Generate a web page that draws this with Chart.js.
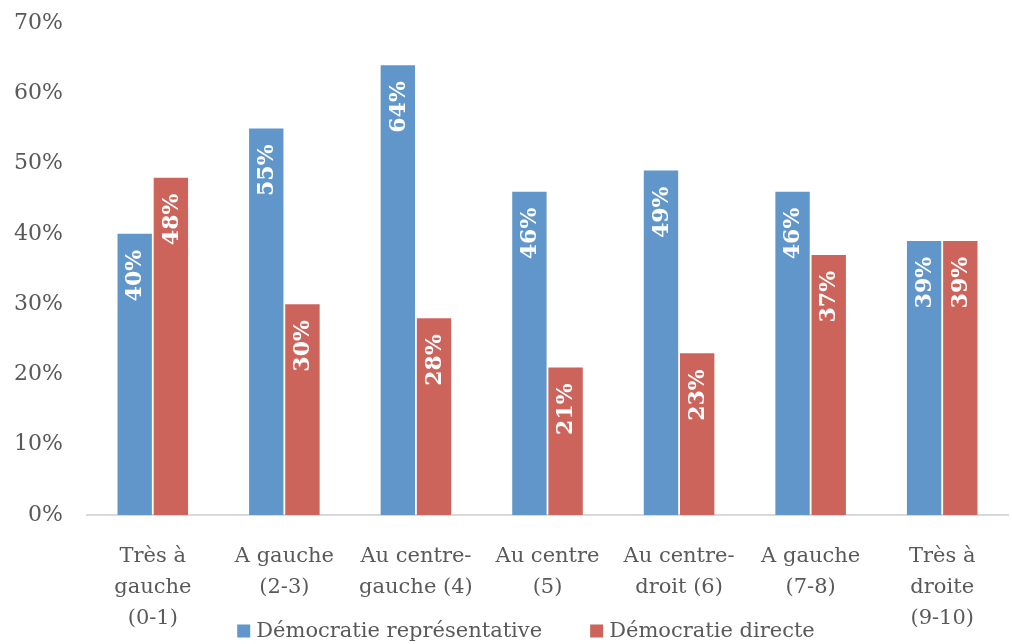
<!DOCTYPE html>
<html>
<head>
<meta charset="utf-8">
<script src="https://cdn.jsdelivr.net/npm/chart.js@4"></script>
<style>
  html, body { margin: 0; padding: 0; background: #fff; }
  #wrap { width: 1012px; height: 644px; }
</style>
</head>
<body>
<div id="wrap"><canvas id="barChart"></canvas></div>
<script>
// donnees
const categories = [
  ["Très à", "gauche", "(0-1)"],
  ["A gauche", "(2-3)"],
  ["Au centre-", "gauche (4)"],
  ["Au centre", "(5)"],
  ["Au centre-", "droit (6)"],
  ["A gauche", "(7-8)"],
  ["Très à", "droite", "(9-10)"]
];
const representative = [40, 55, 64, 46, 49, 46, 39];
const directe = [48, 30, 28, 21, 23, 37, 39];
const yTicks = [0, 10, 20, 30, 40, 50, 60, 70];

const FONT = "'DejaVu Serif', serif";
const GREY = "#595959";

// etiquettes blanches verticales en haut des barres
const valueLabels = {
  id: "valueLabels",
  afterDatasetsDraw(chart) {
    const ctx = chart.ctx;
    ctx.save();
    ctx.fillStyle = "#fff";
    ctx.font = "bold 22px " + FONT;
    ctx.textAlign = "right";
    ctx.textBaseline = "middle";
    chart.data.datasets.forEach(function (ds, i) {
      chart.getDatasetMeta(i).data.forEach(function (bar, j) {
        ctx.save();
        ctx.translate(bar.x, bar.y + 16);
        ctx.rotate(-Math.PI / 2);
        ctx.fillText(ds.data[j] + "%", 0, 1);
        ctx.restore();
      });
    });
    ctx.restore();
  }
};

// legende en bas, qui chevauche la 3e ligne des categories comme dans Excel
const bottomLegend = {
  id: "bottomLegend",
  afterDraw(chart) {
    const ctx = chart.ctx;
    const ds = chart.data.datasets;
    const box = 13, gap = 6, spacing = 48, cx = 526, cy = 631;
    ctx.save();
    ctx.font = "21px " + FONT;
    ctx.textBaseline = "middle";
    ctx.textAlign = "left";
    const widths = ds.map(function (d) { return ctx.measureText(d.label).width; });
    let total = 0;
    widths.forEach(function (w) { total += box + gap + w; });
    total += spacing * (ds.length - 1);
    let x = cx - total / 2;
    ds.forEach(function (d, i) {
      ctx.fillStyle = d.backgroundColor;
      ctx.fillRect(x, cy - box / 2, box, box);
      x += box + gap;
      ctx.fillStyle = GREY;
      ctx.fillText(d.label, x, cy + 1);
      x += widths[i] + spacing;
    });
    ctx.restore();
  }
};

const data = {
  labels: categories,
  datasets: [
    {
      label: "Démocratie représentative",
      data: representative,
      backgroundColor: "#6196CA",
      borderWidth: 0
    },
    {
      label: "Démocratie directe",
      data: directe,
      backgroundColor: "#CC645C",
      borderWidth: 0
    }
  ]
};

const config = {
  type: "bar",
  data: data,
  plugins: [valueLabels, bottomLegend],
  options: {
    responsive: true,
    maintainAspectRatio: false,
    animation: false,
    layout: { padding: { top: 0, left: 10, right: 4, bottom: 0 } },
    datasets: {
      bar: { categoryPercentage: 0.55, barPercentage: 0.95 }
    },
    plugins: {
      legend: { display: false },
      title: { display: false },
      tooltip: { enabled: false }
    },
    scales: {
      y: {
        min: 0,
        max: 70,
        afterBuildTicks: function (scale) {
          scale.ticks = yTicks.map(function (v) { return { value: v }; });
        },
        grid: { display: false, drawTicks: false },
        border: { display: false },
        ticks: {
          padding: 24,
          color: GREY,
          font: { family: FONT, size: 22 },
          callback: function (v) { return v + "%"; }
        },
        afterFit: function (scale) {
          scale.width = 77;
          scale.paddingTop = 23;
          scale.paddingBottom = 0;
        }
      },
      x: {
        grid: { display: false, drawTicks: false },
        border: { display: true, color: "#d9d9d9", width: 2 },
        ticks: {
          padding: 26,
          maxRotation: 0,
          color: GREY,
          font: { family: FONT, size: 21, lineHeight: "31px" }
        },
        afterFit: function (scale) {
          scale.paddingLeft = 0;
          scale.paddingRight = 0;
          scale.height = 129;
        }
      }
    }
  }
};

const ctx = document.getElementById("barChart").getContext("2d");
const myBarChart = new Chart(ctx, config);
</script>
</body>
</html>
